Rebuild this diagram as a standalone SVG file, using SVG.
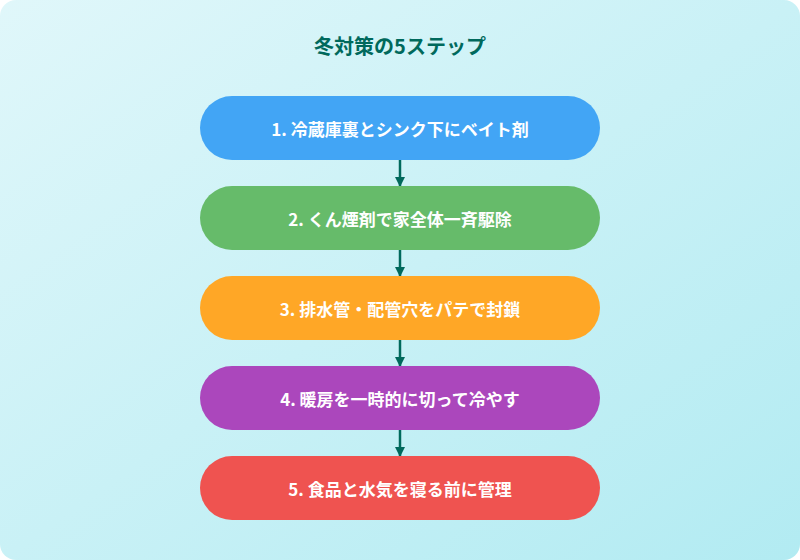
<svg xmlns="http://www.w3.org/2000/svg" width="800" height="560" viewBox="0 0 800 560">
<style>
.t{font-family:"Noto Sans CJK JP","Noto Sans",sans-serif;font-weight:bold;font-size:17px;fill:#fff;text-anchor:middle;dominant-baseline:central}
.c{stroke:#00695c;stroke-width:2.5;fill:none}
</style>
<defs>
<linearGradient id="bg" x1="0" y1="0" x2="1" y2="1"><stop offset="0" stop-color="#e0f7fa"/><stop offset="1" stop-color="#b2ebf2"/></linearGradient>
<marker id="a" viewBox="0 0 10 10" refX="9" refY="5" markerWidth="4" markerHeight="4" orient="auto"><path d="M0,0L10,5L0,10z" fill="#00695c"/></marker>
</defs>
<rect width="800" height="560" rx="16" fill="url(#bg)"/>
<text x="400" y="45" font-family="Noto Sans CJK JP,sans-serif" font-weight="bold" font-size="20" fill="#00695c" text-anchor="middle" dominant-baseline="central">冬対策の5ステップ</text>
<g id="connectors">
<line class="c" x1="400" y1="160" x2="400" y2="186" marker-end="url(#a)"/>
<line class="c" x1="400" y1="250" x2="400" y2="276" marker-end="url(#a)"/>
<line class="c" x1="400" y1="340" x2="400" y2="366" marker-end="url(#a)"/>
<line class="c" x1="400" y1="430" x2="400" y2="456" marker-end="url(#a)"/>
</g>
<g id="s1"><rect x="200" y="96" width="400" height="64" rx="32" fill="#42a5f5"/><text class="t" x="400" y="128">1. 冷蔵庫裏とシンク下にベイト剤</text></g>
<g id="s2"><rect x="200" y="186" width="400" height="64" rx="32" fill="#66bb6a"/><text class="t" x="400" y="218">2. くん煙剤で家全体一斉駆除</text></g>
<g id="s3"><rect x="200" y="276" width="400" height="64" rx="32" fill="#ffa726"/><text class="t" x="400" y="308">3. 排水管・配管穴をパテで封鎖</text></g>
<g id="s4"><rect x="200" y="366" width="400" height="64" rx="32" fill="#ab47bc"/><text class="t" x="400" y="398">4. 暖房を一時的に切って冷やす</text></g>
<g id="s5"><rect x="200" y="456" width="400" height="64" rx="32" fill="#ef5350"/><text class="t" x="400" y="488">5. 食品と水気を寝る前に管理</text></g>
</svg>
